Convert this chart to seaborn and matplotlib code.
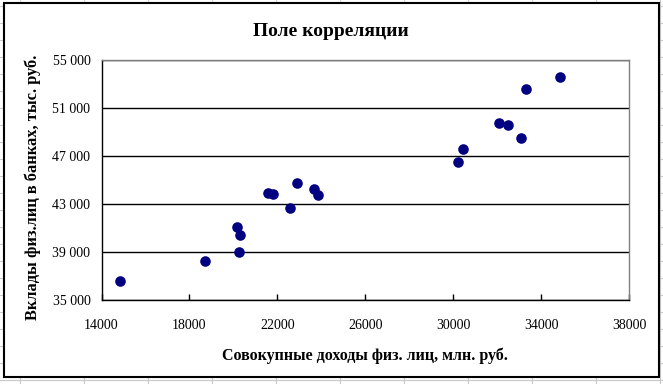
import pandas as pd
import matplotlib.pyplot as plt
import seaborn as sns
from matplotlib.patches import Rectangle
from matplotlib.lines import Line2D
from matplotlib.ticker import FuncFormatter

# income of individuals, mln rub.
income = [14860, 18700, 20150, 20300, 20260, 21580, 21800, 22880, 22570, 23660, 23840,
          30240, 30450, 32090, 32500, 33070, 33310, 34870]
# bank deposits of individuals, thous. rub.
deposits = [36600, 38250, 41080, 40390, 39000, 43880, 43850, 44730, 42660, 44240, 43740,
            46480, 47560, 49710, 49550, 48470, 52620, 53590]

x_ticks = [14000, 18000, 22000, 26000, 30000, 34000, 38000]
y_ticks = [35000, 39000, 43000, 47000, 51000, 55000]

df = pd.DataFrame({"income": income, "deposits": deposits})

sns.set_style("white")
plt.rcParams['font.family'] = ['Liberation Serif', 'DejaVu Serif']
plt.rcParams.update({"text.color": "black", "axes.labelcolor": "black",
                     "xtick.color": "black", "ytick.color": "black"})

fig = plt.figure(figsize=(6.63, 3.84), dpi=100)

# spreadsheet cells behind the chart
for px in range(20, 663, 64):
    fig.add_artist(Line2D([px / 663, px / 663], [0, 1], color="#c8c8c8", lw=0.8, zorder=0))
for py in range(6, 384, 17):
    fig.add_artist(Line2D([0, 1], [1 - py / 384, 1 - py / 384], color="#c8c8c8", lw=0.8, zorder=0))

# chart area
fig.add_artist(Rectangle((4 / 663, 1 - 377 / 384), 655 / 663, 374 / 384,
                         facecolor="white", edgecolor="black", lw=1.5, zorder=1))

ax = fig.add_axes([101.5 / 663, 1 - 300 / 384, 527.5 / 663, 240 / 384], zorder=2)
ax.set_facecolor("white")

sns.scatterplot(data=df, x="income", y="deposits", ax=ax, color="#000080",
                s=58, edgecolor="#000080", linewidth=0, zorder=3)

ax.set_xlim(14000, 38000)
ax.set_ylim(35000, 55000)
ax.set_xticks(x_ticks)
ax.set_yticks(y_ticks)
ax.yaxis.set_major_formatter(FuncFormatter(lambda v, p: f"{int(v):,}".replace(",", " ")))
ax.grid(axis="y", color="black", lw=1)
ax.grid(axis="x", visible=False)

ax.tick_params(axis="x", direction="in", length=4, width=1, color="black",
               labelsize=10, pad=14)
ax.tick_params(axis="y", length=0, labelsize=10, pad=8)
ax.tick_params(bottom=True, left=False)

for side in ["left", "bottom"]:
    ax.spines[side].set_color("black")
    ax.spines[side].set_linewidth(1)
for side in ["top", "right"]:
    ax.spines[side].set_color("#808080")
    ax.spines[side].set_linewidth(1)

ax.set_xlabel("Совокупные доходы физ. лиц, млн. руб.", fontsize=11.5,
              fontweight="bold", labelpad=11)
ax.set_ylabel("Вклады физ.лиц в банках, тыс. руб.", fontsize=11.8,
              fontweight="bold")
ax.yaxis.set_label_coords(-0.115, 0.47)

fig.text(331 / 663, 1 - 32 / 384, "Поле корреляции", ha="center", va="center",
         fontsize=14, fontweight="bold", zorder=3)

fig.savefig("out.png", dpi=100)
